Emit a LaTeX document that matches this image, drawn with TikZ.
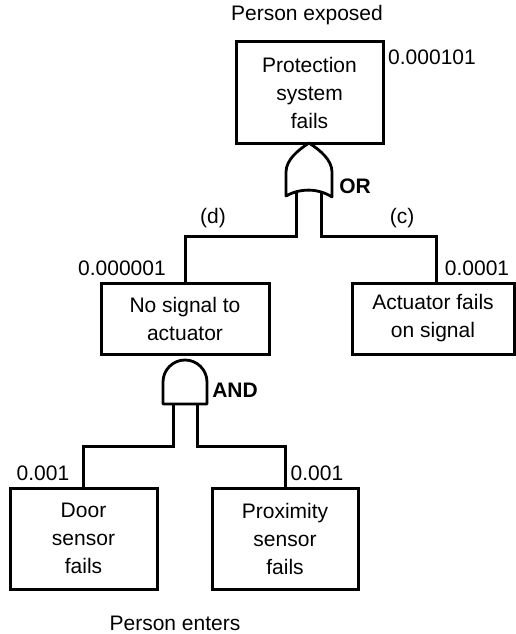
\documentclass[tikz,border=0pt]{standalone}
\usepackage{fontspec}
\setmainfont{Liberation Sans}
\begin{document}
\begin{tikzpicture}[x=1pt,y=-1pt,
  txt/.style={font=\fontsize{21}{28}\selectfont, inner sep=0pt},
  bld/.style={font=\fontsize{21}{28}\selectfont\bfseries, inner sep=0pt},
  evbox/.style={draw, line width=3pt, align=center, inner sep=0pt,
    font=\fontsize{21}{28}\selectfont},
  wire/.style={line width=3pt},
  gate/.style={line width=2.8pt, line join=round}]
\useasboundingbox (0,0) rectangle (516,634);

% boxes
\node[evbox, minimum width=147pt, minimum height=101pt] (top) at (309.5,92.5) {Protection\\system\\fails};
\node[evbox, minimum width=168pt, minimum height=71pt] (nosig) at (185,318.5) {No signal to\\actuator};
\node[evbox, minimum width=162pt, minimum height=71pt] (act) at (433,318.5) {Actuator fails\\on signal};
\node[evbox, minimum width=147pt, minimum height=101pt] (door) at (83.5,538.5) {Door\\sensor\\fails};
\node[evbox, minimum width=146pt, minimum height=101pt] (prox) at (285,538.5) {Proximity\\sensor\\fails};

% labels
\node[txt] (pexp) at (307,15) {Person exposed};
\node[txt] (pent) at (175,623) {Person enters};
\node[txt] (p1) at (432,57) {0.000101};
\node[txt] (p2) at (122,268) {0.000001};
\node[txt] (p3) at (477,268) {0.0001};
\node[txt] (p4) at (43,473) {0.001};
\node[txt] (p5) at (317,473) {0.001};
\node[txt] (ld) at (213,218) {(d)};
\node[txt] (lc) at (402,218) {(c)};
\node[bld] (lor) at (355,186) {OR};
\node[bld] (land) at (235,390) {AND};

% OR gate
\draw[gate] (286,196) -- (286,172) .. controls (286,160) and (298,150) .. (309,143)
  .. controls (320,150) and (332,160) .. (332,172) -- (332,197)
  .. controls (318,188) and (300,188) .. cycle;
\coordinate (orL) at (296,192);
\coordinate (orR) at (321,192);
\coordinate (orLb) at (296,236);
\coordinate (orRb) at (321,236);
\coordinate (actin) at ([xshift=3pt]act.north);
\draw[wire] (orL) -- (orLb) -| (nosig.north);
\draw[wire] (orR) -- (orRb) -| (actin);

% AND gate
\draw[gate] (163,404) -- (163,382) .. controls (163,369.85) and (172.85,360) .. (185,360)
  .. controls (197.15,360) and (207,369.85) .. (207,382) -- (207,404) -- cycle;
\coordinate (anL) at (173,404);
\coordinate (anR) at (197,404);
\coordinate (anLb) at (173,446);
\coordinate (anRb) at (197,446);
\draw[wire] (anL) -- (anLb) -| (door.north);
\draw[wire] (anR) -- (anRb) -| (prox.north);
\end{tikzpicture}
\end{document}
